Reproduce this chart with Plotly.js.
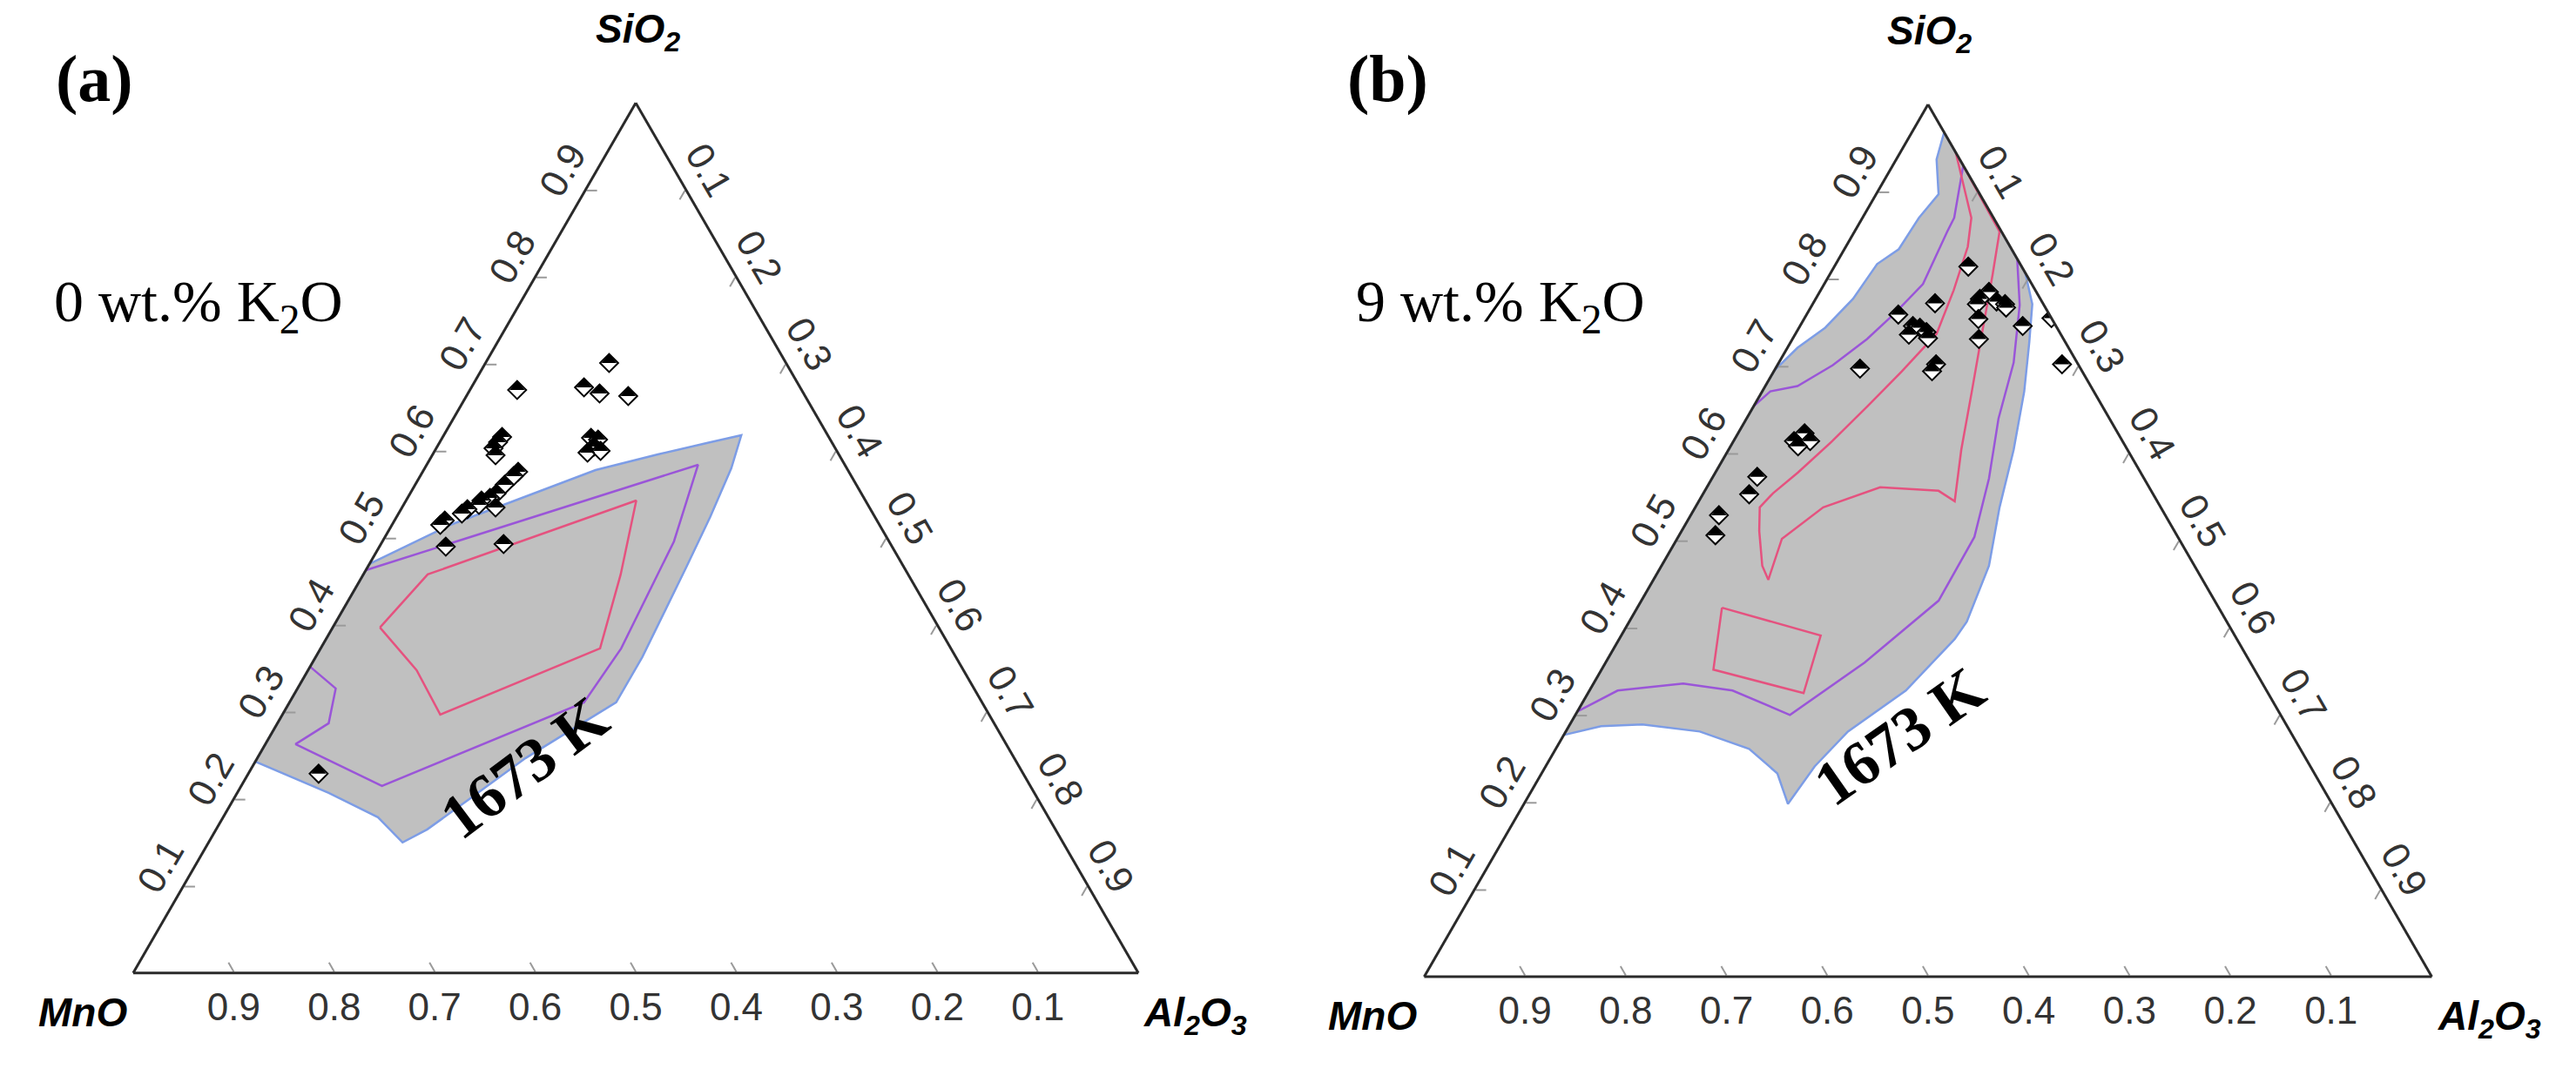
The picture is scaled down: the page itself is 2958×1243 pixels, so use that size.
<!DOCTYPE html>
<html>
<head>
<meta charset="utf-8">
<script src="https://cdn.plot.ly/plotly-3.0.1.min.js"></script>
<style>html,body{margin:0;padding:0;background:#fff;}#chart{width:2958px;height:1243px;}</style>
</head>
<body>
<div id="chart"></div>
<script>
// ---------- data (ternary fractions: SiO2 = a, Al2O3 = c; MnO = remainder) ----------
const tickVals = [0.1,0.2,0.3,0.4,0.5,0.6,0.7,0.8,0.9];

// Panel (a): 0 wt.% K2O
const regionA_SiO2  = [0.470,0.515,0.540,0.578,0.596,0.609,0.618,0.580,0.524,0.467,0.416,0.363,0.311,0.288,0.247,0.199,0.165,0.150,0.179,0.207,0.243,0.470];
const regionA_Al2O3 = [0.000,0.058,0.103,0.171,0.224,0.266,0.296,0.305,0.312,0.317,0.321,0.325,0.325,0.304,0.267,0.234,0.210,0.193,0.154,0.091,0.000,0.000];
const purpleA_SiO2  = [0.463,0.584,0.496,0.373,0.311,0.215,0.263,0.287,0.327,0.352];
const purpleA_Al2O3 = [0.000,0.270,0.290,0.299,0.293,0.140,0.030,0.051,0.038,0.000];
const redA_SiO2     = [0.397,0.458,0.543,0.458,0.373,0.297,0.348,0.397];
const redA_Al2O3    = [0.047,0.064,0.229,0.256,0.278,0.157,0.108,0.047];
const ptsA_SiO2  = [0.701,0.670,0.673,0.666,0.663,0.615,0.613,0.605,0.598,0.600,0.616,0.610,0.603,0.595,0.576,0.571,0.561,0.551,0.546,0.543,0.538,0.533,0.528,0.520,0.515,0.535,0.490,0.493,0.229];
const ptsA_Al2O3 = [0.123,0.047,0.112,0.131,0.161,0.148,0.156,0.156,0.153,0.165,0.059,0.058,0.057,0.063,0.095,0.093,0.089,0.086,0.082,0.075,0.075,0.066,0.063,0.050,0.048,0.093,0.066,0.122,0.070];

// Panel (b): 9 wt.% K2O
const regionB_SiO2  = [0.695,0.721,0.744,0.777,0.817,0.834,0.870,0.897,0.937,0.968,0.807,0.771,0.727,0.671,0.604,0.538,0.471,0.407,0.387,0.328,0.281,0.241,0.198,0.233,0.261,0.281,0.289,0.287,0.277,0.695];
const regionB_Al2O3 = [0.000,0.010,0.026,0.037,0.041,0.054,0.056,0.062,0.040,0.032,0.193,0.218,0.237,0.260,0.283,0.302,0.325,0.335,0.333,0.314,0.280,0.267,0.262,0.234,0.192,0.133,0.072,0.032,0.000,0.000];
const purpleB1_SiO2  = [0.654,0.671,0.677,0.701,0.731,0.761,0.794,0.854,0.870,0.930];
const purpleB1_Al2O3 = [0.000,0.008,0.032,0.055,0.074,0.087,0.098,0.092,0.091,0.070];
const purpleB2_SiO2  = [0.823,0.770,0.704,0.640,0.571,0.504,0.431,0.360,0.300,0.328,0.336,0.328,0.304];
const purpleB2_Al2O3 = [0.177,0.206,0.233,0.250,0.275,0.294,0.295,0.257,0.213,0.142,0.089,0.028,0.000];
const pinkB1_SiO2  = [0.945,0.870,0.837,0.787,0.737,0.694,0.654,0.614,0.578,0.554,0.538,0.511,0.471,0.455,0.502,0.538,0.561,0.557,0.545,0.604,0.671,0.737,0.804,0.854,0.935];
const pinkB1_Al2O3 = [0.055,0.108,0.121,0.132,0.140,0.127,0.113,0.098,0.082,0.069,0.064,0.077,0.100,0.114,0.104,0.127,0.172,0.232,0.254,0.231,0.208,0.185,0.162,0.144,0.065];
const pinkB2_SiO2  = [0.423,0.391,0.325,0.352,0.423];
const pinkB2_Al2O3 = [0.084,0.198,0.214,0.111,0.084];
const ptsB_SiO2  = [0.814,0.785,0.777,0.774,0.771,0.771,0.767,0.754,0.731,0.746,0.755,0.702,0.772,0.759,0.746,0.744,0.739,0.736,0.732,0.702,0.694,0.697,0.623,0.614,0.614,0.608,0.573,0.553,0.529,0.506];
const ptsB_Al2O3 = [0.133,0.168,0.163,0.181,0.163,0.191,0.194,0.173,0.185,0.221,0.245,0.282,0.121,0.091,0.112,0.120,0.129,0.113,0.134,0.157,0.157,0.084,0.066,0.060,0.076,0.067,0.044,0.046,0.028,0.036];

// ---------- styles ----------
const GRAY = '#c0c0c0', BLUE = '#7d9de6', PURPLE = '#9a55d8', PINK = '#e5527f';

function region(a, c, sub) {
  return {type:'scatterternary', mode:'lines', a:a, c:c, subplot:sub, fill:'toself',
    fillcolor:GRAY, line:{color:BLUE, width:2.5}, hoverinfo:'skip', showlegend:false};
}
function contour(a, c, sub, color) {
  return {type:'scatterternary', mode:'lines', a:a, c:c, subplot:sub,
    line:{color:color, width:2.5}, hoverinfo:'skip', showlegend:false};
}
function pointsBase(a, c, sub) {
  return {type:'scatterternary', mode:'markers', a:a, c:c, subplot:sub,
    marker:{symbol:'diamond', size:16, color:'white', line:{color:'black', width:2}},
    hoverinfo:'skip', showlegend:false};
}
function pointsTop(a, c, sub) {
  return {type:'scatterternary', mode:'markers', a:a, c:c, subplot:sub,
    marker:{symbol:'triangle-down', angle:180, standoff:3.75, size:15, color:'black', line:{width:0}},
    hoverinfo:'skip', showlegend:false};
}

const data = [
  region(regionA_SiO2, regionA_Al2O3, 'ternary'),
  contour(purpleA_SiO2, purpleA_Al2O3, 'ternary', PURPLE),
  contour(redA_SiO2, redA_Al2O3, 'ternary', PINK),
  pointsBase(ptsA_SiO2, ptsA_Al2O3, 'ternary'),
  pointsTop(ptsA_SiO2, ptsA_Al2O3, 'ternary'),
  region(regionB_SiO2, regionB_Al2O3, 'ternary2'),
  contour(purpleB1_SiO2, purpleB1_Al2O3, 'ternary2', PURPLE),
  contour(purpleB2_SiO2, purpleB2_Al2O3, 'ternary2', PURPLE),
  contour(pinkB1_SiO2, pinkB1_Al2O3, 'ternary2', PINK),
  contour(pinkB2_SiO2, pinkB2_Al2O3, 'ternary2', PINK),
  pointsBase(ptsB_SiO2, ptsB_Al2O3, 'ternary2'),
  pointsTop(ptsB_SiO2, ptsB_Al2O3, 'ternary2')
];

function axis(angle) {
  return {tickvals:tickVals, tickformat:'.1f', ticks:'inside', ticklen:12, tickwidth:2, tickcolor:'#9a9a9a',
    showgrid:false, showline:true, linecolor:'#2a2a2a', linewidth:3, tickangle:angle,
    tickfont:{family:'Arial, "Liberation Sans", sans-serif', size:44, color:'#333'},
    title:{text:''}};
}
function tern(dx, dy) {
  return {domain:{x:dx, y:dy}, sum:1, bgcolor:'rgba(0,0,0,0)',
    aaxis:axis(-60), baxis:axis(0), caxis:axis(60)};
}

const W = 2958, H = 1243;
const SERIF = '"Liberation Serif", "Times New Roman", serif';
const SANS = 'Arial, "Liberation Sans", sans-serif';
function ann(text, x, y, size, family, opts) {
  return Object.assign({text:text, x:x / W, y:1 - y / H, xref:'paper', yref:'paper',
    showarrow:false, xanchor:'center', yanchor:'middle',
    font:{family:family, size:size, color:'#000'}}, opts || {});
}

const annotations = [
  ann('<b>(a)</b>', 108, 90, 76, SERIF),
  ann('0 wt.% K<sub>2</sub>O', 60, 350, 68, SERIF, {xanchor:'left'}),
  ann('<b>1673 K</b>', 602, 882, 72, SERIF, {textangle:-37}),
  ann('<b><i>SiO<sub>2</sub></i></b>', 732, 36, 46, SANS),
  ann('<b><i>MnO</i></b>', 95, 1163, 46, SANS),
  ann('<b><i>Al<sub>2</sub>O<sub>3</sub></i></b>', 1372, 1166, 46, SANS),
  ann('<b>(b)</b>', 1593, 90, 76, SERIF),
  ann('9 wt.% K<sub>2</sub>O', 1555, 350, 68, SERIF, {xanchor:'left'}),
  ann('<b>1673 K</b>', 2181, 846, 72, SERIF, {textangle:-35}),
  ann('<b><i>SiO<sub>2</sub></i></b>', 2215, 38, 46, SANS),
  ann('<b><i>MnO</i></b>', 1576, 1167, 46, SANS),
  ann('<b><i>Al<sub>2</sub>O<sub>3</sub></i></b>', 2858, 1170, 46, SANS)
];

const layout = {
  width:W, height:H, margin:{l:0, r:0, t:0, b:0},
  paper_bgcolor:'#fff', plot_bgcolor:'#fff', showlegend:false,
  ternary: tern([0.0517, 0.4419], [0.1006, 0.9051]),
  ternary2: tern([0.5527, 0.9442], [0.0974, 0.9035]),
  annotations: annotations
};

Plotly.newPlot('chart', data, layout, {displayModeBar:false, staticPlot:true});
</script>
</body>
</html>
